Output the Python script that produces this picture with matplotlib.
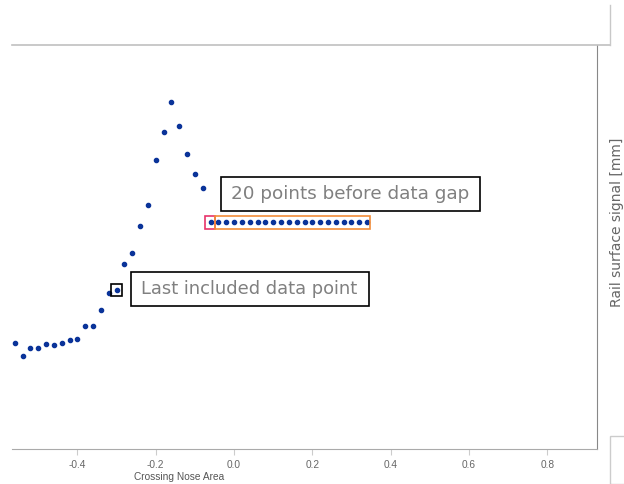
import matplotlib
matplotlib.use('Agg')
import matplotlib.pyplot as plt
from matplotlib.patches import Rectangle
from matplotlib.lines import Line2D

# crossing nose position and rail surface signal [mm]
x_vals = [-0.56, -0.54, -0.52, -0.50, -0.48, -0.46, -0.44, -0.42, -0.40, -0.38,
          -0.36, -0.34, -0.32, -0.30, -0.28, -0.26, -0.24, -0.22, -0.20, -0.18,
          -0.16, -0.14, -0.12, -0.10, -0.08, -0.06,
          -0.04, -0.02, 0.00, 0.02, 0.04, 0.06, 0.08, 0.10, 0.12, 0.14,
          0.16, 0.18, 0.20, 0.22, 0.24, 0.26, 0.28, 0.30, 0.32, 0.34]
y_vals = [1.06, 0.93, 1.01, 1.01, 1.05, 1.04, 1.06, 1.09, 1.10, 1.23,
          1.23, 1.39, 1.56, 1.59, 1.85, 1.96, 2.23, 2.44, 2.89, 3.17,
          3.47, 3.23, 2.95, 2.75, 2.61, 2.27,
          2.27, 2.27, 2.27, 2.27, 2.27, 2.27, 2.27, 2.27, 2.27, 2.27,
          2.27, 2.27, 2.27, 2.27, 2.27, 2.27, 2.27, 2.27, 2.27, 2.27]
last_included = 13   # index of last included point
gap_start = 25       # point just before the 20 flat points
xticks = [-0.4, -0.2, 0.0, 0.2, 0.4, 0.6, 0.8]

W, H = 624, 484
fig = plt.figure(figsize=(W/100, H/100), dpi=100)
ax = fig.add_axes([12/W, 35/H, 585/W, 404/H])

ax.scatter(x_vals, y_vals, s=9, color='#0a3399', zorder=3)
ax.set_xlim(-0.567, 0.927)
ax.set_ylim(0, 4.04)

ax.set_xticks(xticks)
ax.set_xticklabels([f'{t:.1f}' for t in xticks], fontsize=7.3, color='#666666',
                   family='Liberation Sans')
ax.tick_params(axis='x', length=4, color='#cccccc', pad=4)
ax.set_yticks([])
for s in ['top', 'left']:
    ax.spines[s].set_visible(False)
ax.spines['bottom'].set_color('#aaaaaa')
ax.spines['right'].set_color('#888888')

fig.text(179/W, 1 - 477/H, 'Crossing Nose Area', fontsize=7.3, color='#555555',
         family='Liberation Sans', ha='center', va='center')

# small boxes around points
bw, bh = 0.028, 0.12
xl, yl = x_vals[last_included], y_vals[last_included]
ax.add_patch(Rectangle((xl - bw/2, yl - bh/2), bw, bh, fill=False, ec='black', lw=1.2, zorder=4))
xp, yp = x_vals[gap_start], y_vals[gap_start]
pw, ph = 0.0273, 0.13
ax.add_patch(Rectangle((xp - 0.015, yp - ph/2), pw, ph, fill=False, ec='#e8336b', lw=1.2, zorder=4))
ax.add_patch(Rectangle((xp - 0.015 + pw, yp - ph/2), x_vals[-1] + 0.008 - (xp - 0.015 + pw), ph,
                       fill=False, ec='#f28c38', lw=1.2, zorder=4))

# annotation labels with boxes
labels = [('Last included data point', 141, 289.3, 12.9),
          ('20 points before data gap', 230.7, 194.3, 13.2)]
texts = []
for txt, lx, cy, fs in labels:
    t = fig.text(lx/W, 1 - cy/H, txt, fontsize=fs, color='#808080', va='center',
                 ha='left', zorder=6)
    texts.append((t, cy))
fig.canvas.draw()
r = fig.canvas.get_renderer()
for t, cy in texts:
    bb = t.get_window_extent(r)
    x0, x1 = bb.x0 - 10, bb.x1 + 11.5
    fig.add_artist(Rectangle((x0/W, (H - cy - 17)/H), (x1 - x0)/W, 34/H,
                             fc='white', ec='black', lw=1.2, zorder=5))

# surrounding frame pieces
fig.add_artist(Line2D([12/W, 610/W], [1 - 45/H, 1 - 45/H], color='#c0c0c0', lw=1.2))
fig.add_artist(Line2D([609.5/W, 609.5/W], [1 - 5/H, 1 - 45/H], color='#c8c8c8', lw=1))
fig.add_artist(Rectangle((610/W, 0), 20/W, 48/H, fill=False, ec='#cccccc', lw=1))
fig.text(610/W, 1 - 222/H, 'Rail surface signal [mm]', rotation=90, fontsize=10,
         color='#666666', ha='left', va='center')

plt.savefig('out.png', dpi=100)
plt.close()
